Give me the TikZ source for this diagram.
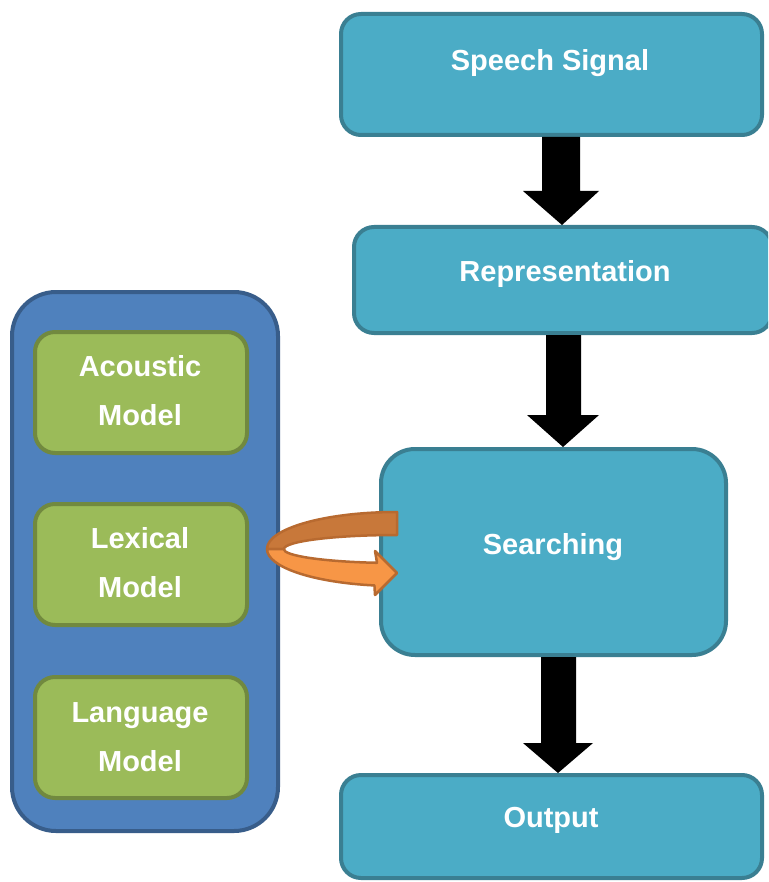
\documentclass[tikz,border=0pt]{standalone}
\usepackage{fontspec}
\setmainfont{Liberation Sans}
\usetikzlibrary{calc}
\definecolor{tealfill}{HTML}{4BACC6}
\definecolor{tealline}{HTML}{3A7F92}
\definecolor{bluefill}{HTML}{4F81BD}
\definecolor{blueline}{HTML}{385D8A}
\definecolor{greenfill}{HTML}{9BBB59}
\definecolor{greenline}{HTML}{71893F}
\definecolor{orgback}{HTML}{C8783A}
\definecolor{orgfront}{HTML}{F79646}
\definecolor{orgline}{HTML}{B86A30}
\begin{document}
\begin{tikzpicture}[x=1pt,y=-1pt,
  tealbox/.style={draw=tealline, fill=tealfill, line width=4pt, rounded corners=20pt, inner sep=0pt},
  bigtealbox/.style={tealbox, rounded corners=34pt},
  container/.style={draw=blueline, fill=bluefill, line width=4pt, rounded corners=44pt, inner sep=0pt},
  greenbox/.style={draw=greenline, fill=greenfill, line width=4pt, rounded corners=20pt, inner sep=0pt, minimum width=212pt, minimum height=121pt},
  lbl/.style={text=white, font=\fontsize{29}{49}\selectfont\bfseries, align=center, inner sep=0pt, anchor=base},
  blockarrow/.style={fill=black},
  uback/.style={fill=orgback, draw=orgline, line width=2.5pt, line join=round},
  ufront/.style={fill=orgfront, draw=orgline, line width=2.5pt, line join=round}
]
\clip (0,0) rectangle (768,882);
\fill[white] (0,0) rectangle (768,882);

% left container and models
\node[container, minimum width=266pt, minimum height=539pt] (cont) at (145,561.5) {};
\node[greenbox] (acoustic) at (141,392.5) {};
\node[greenbox] (lexical) at (141,564.5) {};
\node[greenbox] (language) at (141,737.5) {};
\node[lbl] (acousticT) at (140,425) {Acoustic\\Model};
\node[lbl] (lexicalT) at (140,597) {Lexical\\Model};
\node[lbl] (languageT) at (140,771) {Language\\Model};

% main flow boxes
\node[tealbox, minimum width=421pt, minimum height=121pt] (speech) at (551.5,74.5) {};
\node[tealbox, minimum width=418pt, minimum height=106pt] (repr) at (563,280) {};
\node[bigtealbox, minimum width=345pt, minimum height=206pt] (search) at (553.5,552) {};
\node[tealbox, minimum width=421pt, minimum height=103pt] (output) at (551.5,826.5) {};

\node[lbl] (speechT) at (550,71) {Speech Signal};
\node[lbl] (reprT) at (565,281) {Representation};
\node[lbl] (searchT) at (553,554) {Searching};
\node[lbl] (outputT) at (551,827) {Output};

% block arrows
\fill[blockarrow] (542,0 |- speech.south) -- (542,191) -- (523,191) -- (562,0 |- repr.north) -- (599,191) -- (580,191) -- (580,0 |- speech.south) -- cycle;
\fill[blockarrow] (546,0 |- repr.south) -- (546,415) -- (527,415) -- (563,0 |- search.north) -- (599,415) -- (581,415) -- (581,0 |- repr.south) -- cycle;
\fill[blockarrow] (541,0 |- search.south) -- (541,743) -- (523,743) -- (558,0 |- output.north) -- (593,743) -- (576,743) -- (576,0 |- search.south) -- cycle;

% U-turn arrow from the lexical model into searching
\draw[uback] (397,512) arc[start angle=270, end angle=180, x radius=130, y radius=37]
  -- (284,549) arc[start angle=180, end angle=270, x radius=113, y radius=14] -- cycle;
\draw[ufront] (267,549) arc[start angle=180, end angle=100, x radius=130, y radius=37]
  -- (375,595) -- (397,573) -- (375,551) -- (377,562.8)
  arc[start angle=100, end angle=180, x radius=113, y radius=14] -- cycle;
\end{tikzpicture}
\end{document}
